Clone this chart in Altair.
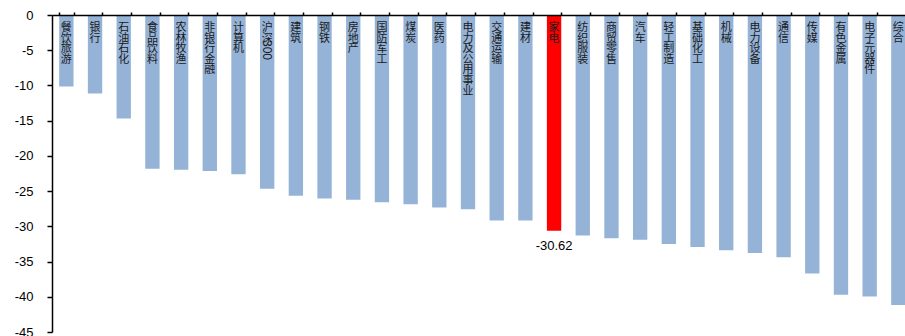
import altair as alt
import pandas as pd

# 行业区间涨跌幅（%）
categories = [
    "餐饮旅游", "银行", "石油石化", "食品饮料", "农林牧渔", "非银行金融", "计算机",
    "沪深300", "建筑", "钢铁", "房地产", "国防军工", "煤炭", "医药", "电力及公用事业",
    "交通运输", "建材", "家电", "纺织服装", "商贸零售", "汽车", "轻工制造", "基础化工",
    "机械", "电力设备", "通信", "传媒", "有色金属", "电子元器件", "综合",
]
values = [
    -10.14, -11.14, -14.69, -21.83, -21.97, -22.16, -22.60,
    -24.67, -25.67, -26.05, -26.24, -26.57, -26.85, -27.33, -27.56,
    -29.17, -29.17, -30.62, -31.30, -31.70, -31.90, -32.50, -32.95,
    -33.40, -33.80, -34.40, -36.70, -39.70, -39.97, -41.15,
]
highlight = "家电"
y_ticks = [0, -5, -10, -15, -20, -25, -30, -35, -40, -45]


def stacked(name):
    # 竖排：汉字逐字成行，数字部分单独旋转
    return [ch for ch in name if not ch.isdigit()]


def rotated(name):
    return "".join(ch for ch in name if ch.isdigit())


df = pd.DataFrame({"行业": categories, "涨跌幅": values})
df["竖排"] = [stacked(c) for c in categories]
df["旋转"] = [rotated(c) for c in categories]
df["标注"] = [f"{v:.2f}" if c == highlight else "" for c, v in zip(categories, values)]

# 所有图层共用同一套坐标轴定义，避免合并时冲突
x_enc = alt.X(
    "行业:N",
    sort=None,
    scale=alt.Scale(range=[0, 860.7], paddingInner=0.5, paddingOuter=0.25),
    axis=alt.Axis(
        orient="top", labels=False, title=None, tickBand="extent",
        tickSize=3, tickColor="black", tickWidth=1.5,
        domainColor="black", domainWidth=1.5, zindex=1,
    ),
)
y_enc = alt.Y(
    "涨跌幅:Q",
    scale=alt.Scale(domain=[-45, 0], nice=False),
    axis=alt.Axis(
        values=y_ticks, labelExpr="toString(datum.value)",
        title=None, grid=False,
        tickSize=5, tickColor="black", tickWidth=1.5,
        domainColor="black", domainWidth=1.5,
        labelOverlap=False,
        labelPadding=14, labelFontSize=13, labelFont="Liberation Sans",
        labelColor="black", zindex=1,
    ),
)

bars = alt.Chart(df).mark_bar(clip=True).encode(
    x=x_enc,
    y=y_enc,
    color=alt.condition(
        alt.datum["行业"] == highlight, alt.value("#FF0000"), alt.value("#95B3D7")
    ),
)

names = alt.Chart(df).mark_text(
    baseline="top", align="center", lineHeight=10.6,
    fontSize=11, font="Noto Sans CJK SC", color="#1a1a1a", clip=True,
).encode(
    x=x_enc,
    y=alt.value(7),
    text="竖排:N",
)

digits = alt.Chart(df).transform_filter(alt.datum["旋转"] != "").mark_text(
    angle=90, baseline="middle", align="center",
    fontSize=12, font="Liberation Sans", color="#1a1a1a",
).encode(
    x=x_enc,
    y=alt.value(35),
    text="旋转:N",
)

value_label = alt.Chart(df).transform_filter(alt.datum["标注"] != "").mark_text(
    baseline="middle", align="center", dy=15,
    fontSize=13, font="Liberation Sans", color="black",
).encode(
    x=x_enc,
    y=y_enc,
    text="标注:N",
)

chart = (
    alt.layer(bars, names, digits, value_label)
    .properties(
        width=853,
        height=317,
        autosize=alt.AutoSizeParams(type="none"),
        padding={"left": 52, "top": 15, "right": 0, "bottom": 4},
        background="white",
    )
    .configure_view(stroke=None)
)

chart.save("out.html", embed_options={"renderer": "svg", "actions": False})
